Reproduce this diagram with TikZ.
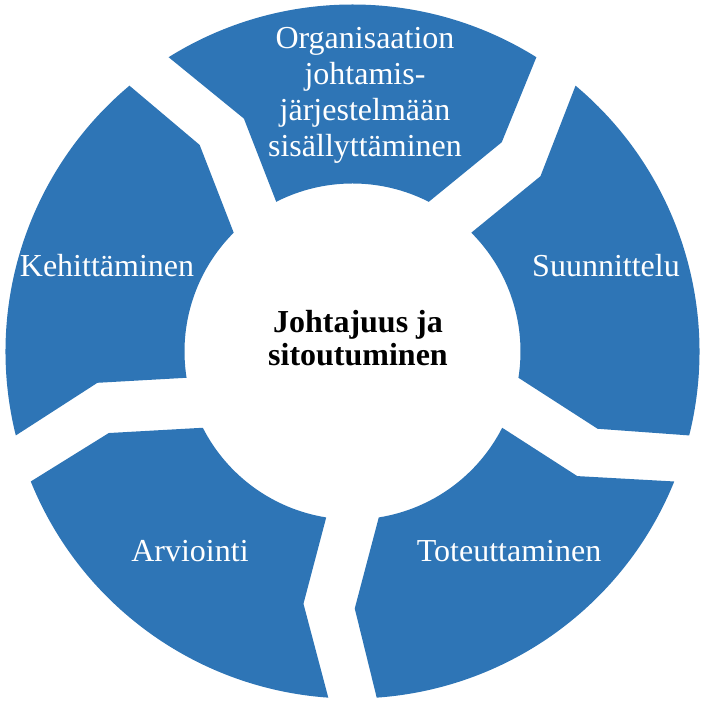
\documentclass[tikz,border=0pt]{standalone}
\usepackage{fontspec}
\setmainfont{Liberation Serif}
\definecolor{segblue}{HTML}{2E75B6}
\begin{document}
\begin{tikzpicture}[x=1pt,y=1pt,
  seg/.style={fill=segblue, draw=none},
  lbl/.style={text=white, font=\fontsize{32}{36}\selectfont, inner sep=0pt, align=center, anchor=base},
  hubtext/.style={text=black, font=\fontsize{32}{33}\selectfont\bfseries, inner sep=0pt, align=center, anchor=base}]
\useasboundingbox (0,0) rectangle (705,703);
\begin{scope}[shift={(352.5,351.5)}]
\foreach \c in {90,18,-54,-126,162}{
  \fill[seg] (\c+32:347) arc[start angle=\c+32, end angle=\c-32, radius=347]
    -- (\c-35.5:257) -- (\c-27:168)
    arc[start angle=\c-27, end angle=\c+27, radius=168]
    -- (\c+25:257) -- cycle;
}
\end{scope}
\node[lbl] (org) at (365,546) {Organisaation\\johtamis-\\järjestelmään\\sisällyttäminen};
\node[lbl] (suun) at (606,426) {Suunnittelu};
\node[lbl] (tot) at (509,141) {Toteuttaminen};
\node[lbl] (arv) at (190,141) {Arviointi};
\node[lbl] (keh) at (107,426) {Kehittäminen};
\node[hubtext] (hub) at (358,337) {Johtajuus ja\\sitoutuminen};
\end{tikzpicture}
\end{document}
